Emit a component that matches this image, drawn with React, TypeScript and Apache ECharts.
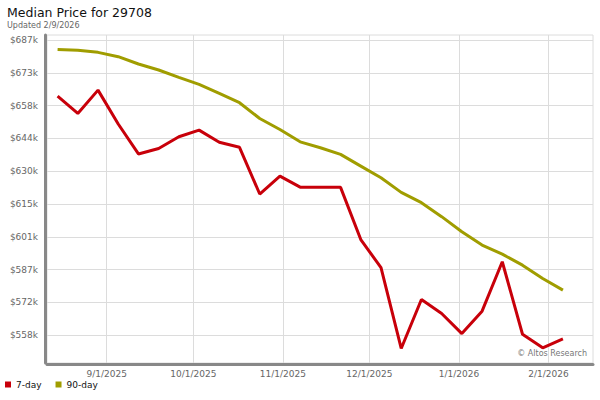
import React, { useEffect, useRef } from 'react';
import * as echarts from 'echarts';

const dates = [
  '2025-08-15', '2025-08-22', '2025-08-29',
  '2025-09-05', '2025-09-12', '2025-09-19', '2025-09-26',
  '2025-10-03', '2025-10-10', '2025-10-17', '2025-10-24', '2025-10-31',
  '2025-11-07', '2025-11-14', '2025-11-21', '2025-11-28',
  '2025-12-05', '2025-12-12', '2025-12-19', '2025-12-26',
  '2026-01-02', '2026-01-09', '2026-01-16', '2026-01-23', '2026-01-30',
  '2026-02-06',
];

const sevenDay = [
  662500, 654900, 665100, 650300, 637200, 639600, 644700, 647600, 642300, 640100,
  619700, 627500, 622700, 622700, 622600, 599800, 587500, 552200, 573600, 567500,
  558700, 568500, 590100, 558400, 552500, 556400,
];

const ninetyDay = [
  682900, 682500, 681600, 679700, 676500, 673900, 670700, 667600, 663700, 659600,
  652700, 647900, 642500, 639900, 637000, 631900, 626800, 620400, 615900, 609800,
  603200, 597400, 593400, 588600, 582800, 577700,
];

const yTicks = [558000, 572333, 586667, 601000, 615333, 629667, 644000, 658333, 672667, 687000];
const xTicks = ['2025-09-01', '2025-10-01', '2025-11-01', '2025-12-01', '2026-01-01', '2026-02-01'];

const FONT = 'DejaVu Sans';

export default function App() {
  const ref = useRef<HTMLDivElement>(null);

  useEffect(() => {
    if (!ref.current) return;
    const chart = echarts.init(ref.current, undefined, { renderer: 'svg' });
    const ts = dates.map((d) => Date.parse(d));
    const xMin = Date.parse('2025-08-11T08:00:00Z');
    const xMax = Date.parse('2026-02-16T10:00:00Z');

    chart.setOption({
      animation: false,
      backgroundColor: '#ffffff',
      textStyle: { fontFamily: FONT },
      title: [
        {
          text: 'Median Price for 29708',
          left: 7,
          top: 6,
          padding: 0,
          textStyle: { fontFamily: FONT, fontSize: 12.5, fontWeight: 'normal', color: '#111' },
        },
        {
          text: 'Updated 2/9/2026',
          left: 7,
          top: 21,
          padding: 0,
          textStyle: { fontFamily: FONT, fontSize: 8, fontWeight: 'normal', color: '#666' },
        },
      ],
      legend: {
        data: ['7-day', '90-day'],
        left: 5,
        top: 380,
        icon: 'rect',
        itemWidth: 6,
        itemHeight: 6,
        itemGap: 14,
        padding: 0,
        textStyle: { fontFamily: FONT, fontSize: 9, color: '#111' },
      },
      grid: {
        left: 47,
        right: 7,
        top: 35,
        bottom: 37,
        show: true,
        borderColor: '#dcdcdc',
        borderWidth: 1,
      },
      xAxis: {
        type: 'value',
        min: xMin,
        max: xMax,
        offset: 1.5,
        axisLine: { show: true, lineStyle: { color: '#888', width: 3 } },
        axisTick: { show: false, customValues: xTicks.map((d) => Date.parse(d)) },
        splitLine: { show: true, lineStyle: { color: '#dcdcdc', width: 1 } },
        axisLabel: {
          customValues: xTicks.map((d) => Date.parse(d)),
          margin: 5,
          fontFamily: FONT,
          fontSize: 9,
          color: '#666',
          formatter: (v: number) => {
            const d = new Date(v);
            return `${d.getUTCMonth() + 1}/${d.getUTCDate()}/${d.getUTCFullYear()}`;
          },
        },
      },
      yAxis: {
        type: 'value',
        min: 545845,
        max: 689186,
        offset: 1.5,
        axisLine: { show: true, lineStyle: { color: '#888', width: 3 } },
        axisTick: { show: false, customValues: yTicks },
        splitLine: { show: true, lineStyle: { color: '#dcdcdc', width: 1 } },
        axisLabel: {
          customValues: yTicks,
          margin: 7.5,
          fontFamily: FONT,
          fontSize: 9,
          color: '#666',
          formatter: (v: number) => `$${Math.round(v / 1000)}k`,
        },
      },
      graphic: [
        {
          type: 'text',
          right: 13,
          top: 349,
          style: {
            text: '© Altos Research',
            fontFamily: FONT,
            fontSize: 8,
            fill: '#777',
          },
        },
      ],
      series: [
        {
          name: '7-day',
          type: 'line',
          data: ts.map((t, i) => [t, sevenDay[i]]),
          symbol: 'none',
          color: '#c8000a',
          lineStyle: { color: '#c8000a', width: 3 },
        },
        {
          name: '90-day',
          type: 'line',
          data: ts.map((t, i) => [t, ninetyDay[i]]),
          symbol: 'none',
          color: '#a09d00',
          lineStyle: { color: '#a09d00', width: 3 },
        },
      ],
    });

    return () => chart.dispose();
  }, []);

  return (
    <div
      ref={ref}
      style={{ position: 'fixed', left: 0, top: 0, width: 600, height: 400 }}
    />
  );
}
